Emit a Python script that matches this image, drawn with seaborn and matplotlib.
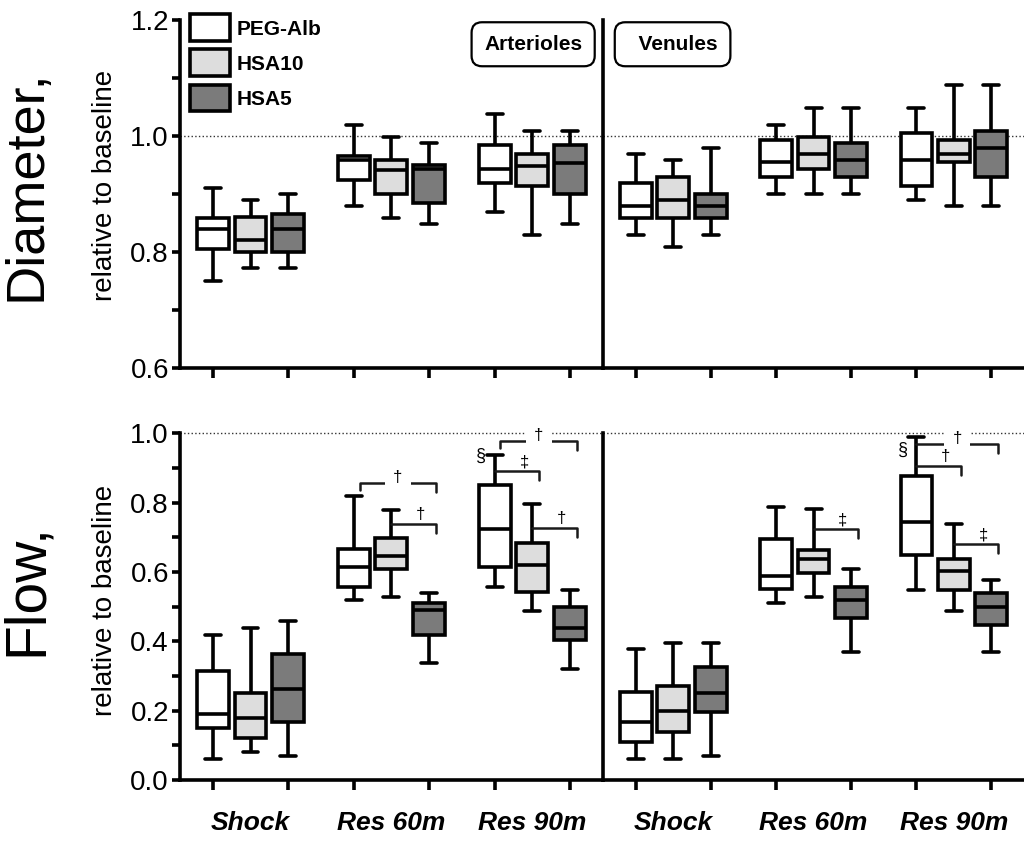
import numpy as np
import pandas as pd
import seaborn as sns
import matplotlib.pyplot as plt
from matplotlib.patches import Patch

sns.set_style('ticks')
plt.rcParams['font.family'] = ['Liberation Sans', 'DejaVu Sans']
for key in ['text.color', 'axes.labelcolor', 'xtick.color', 'ytick.color', 'axes.edgecolor']:
    plt.rcParams[key] = 'black'

treatments = ['PEG-Alb', 'HSA10', 'HSA5']
times = ['Shock', 'Res 60m', 'Res 90m']
colors = ['#ffffff', '#dddddd', '#7b7b7b']

# five-number summaries [min, q1, median, q3, max]; rows: time x treatment
diam_art = [
    [0.750, 0.806, 0.839, 0.858, 0.910], [0.772, 0.800, 0.821, 0.860, 0.890], [0.772, 0.800, 0.839, 0.865, 0.900],
    [0.879, 0.924, 0.959, 0.966, 1.019], [0.859, 0.900, 0.941, 0.959, 0.999], [0.849, 0.885, 0.944, 0.950, 0.988],
    [0.870, 0.920, 0.943, 0.984, 1.039], [0.829, 0.914, 0.949, 0.969, 1.009], [0.849, 0.900, 0.953, 0.984, 1.009],
]
diam_ven = [
    [0.829, 0.859, 0.879, 0.920, 0.969], [0.809, 0.859, 0.890, 0.929, 0.959], [0.829, 0.859, 0.879, 0.900, 0.979],
    [0.900, 0.929, 0.955, 0.993, 1.019], [0.900, 0.944, 0.969, 0.999, 1.049], [0.900, 0.930, 0.959, 0.988, 1.049],
    [0.890, 0.914, 0.959, 1.005, 1.049], [0.879, 0.955, 0.969, 0.993, 1.088], [0.879, 0.930, 0.980, 1.009, 1.088],
]
flow_art = [
    [0.060, 0.149, 0.189, 0.315, 0.418], [0.080, 0.120, 0.178, 0.250, 0.437], [0.069, 0.166, 0.261, 0.363, 0.459],
    [0.519, 0.557, 0.615, 0.665, 0.818], [0.528, 0.607, 0.646, 0.699, 0.778], [0.338, 0.418, 0.490, 0.509, 0.538],
    [0.557, 0.615, 0.723, 0.850, 0.937], [0.488, 0.543, 0.620, 0.682, 0.795], [0.319, 0.403, 0.437, 0.498, 0.548],
]
flow_ven = [
    [0.060, 0.110, 0.168, 0.255, 0.379], [0.060, 0.139, 0.200, 0.272, 0.396], [0.069, 0.197, 0.250, 0.327, 0.396],
    [0.509, 0.552, 0.589, 0.694, 0.788], [0.528, 0.596, 0.636, 0.663, 0.780], [0.368, 0.468, 0.519, 0.557, 0.607],
    [0.548, 0.648, 0.743, 0.876, 0.988], [0.488, 0.548, 0.602, 0.637, 0.738], [0.368, 0.447, 0.498, 0.538, 0.576],
]

# significance brackets on the flow panel: (time, from, to, level, mark)
art_brackets = [
    ('Res 60m', 'PEG-Alb', 'HSA5', 0.856, '†'),
    ('Res 60m', 'HSA10', 'HSA5', 0.738, '†'),
    ('Res 90m', 'PEG-Alb', 'HSA5', 0.977, '†'),
    ('Res 90m', 'PEG-Alb', 'HSA10', 0.890, '‡'),
    ('Res 90m', 'HSA10', 'HSA5', 0.726, '†'),
]
ven_brackets = [
    ('Res 60m', 'HSA10', 'HSA5', 0.723, '‡'),
    ('Res 90m', 'PEG-Alb', 'HSA5', 0.968, '†'),
    ('Res 90m', 'PEG-Alb', 'HSA10', 0.905, '†'),
    ('Res 90m', 'HSA10', 'HSA5', 0.680, '‡'),
]
art_section = ('Res 90m', 0.934)
ven_section = ('Res 90m', 0.951)

LW = 2.6


def long_table(rows):
    recs = []
    for i, five in enumerate(rows):
        for v in five:
            recs.append((times[i // 3], treatments[i % 3], v))
    return pd.DataFrame(recs, columns=['time', 'treatment', 'value'])


def draw_boxes(ax, rows):
    sns.boxplot(data=long_table(rows), x='time', y='value', hue='treatment',
                order=times, hue_order=treatments, palette=colors,
                whis=(0, 100), width=0.8, gap=0.15, saturation=1,
                linecolor='black', linewidth=LW, legend=False, ax=ax)
    # box centres as drawn by seaborn, sorted left to right
    cx = []
    for p in ax.patches:
        v = p.get_path().vertices[:, 0]
        cx.append((v.min() + v.max()) / 2)
    return np.array(sorted(cx)).reshape(3, 3)


def draw_bracket(ax, centers, rows, br):
    time, a, b, level, mark = br
    ti, ia, ib = times.index(time), treatments.index(a), treatments.index(b)
    x0 = centers[ti, ia]
    x1 = centers[ti, ib] + 0.05
    drop = 0.025
    if level > max(rows[ti * 3 + ia]):
        x0 += 0.04
        xs, ys = [x0, x0, x1, x1], [level - 0.02, level, level, level - drop]
    else:
        xs, ys = [x0, x1, x1], [level, level, level - drop]
    ax.plot(xs, ys, color='#1a1a1a', lw=1.8, zorder=4, clip_on=False)
    if ib - ia > 1:
        ax.text((x0 + x1) / 2, level + 0.017, mark, ha='center', va='center',
                fontsize=12, zorder=5,
                bbox=dict(boxstyle='square,pad=0.5', fc='white', ec='none'))
    else:
        ax.text((x0 + x1) / 2 + 0.05, level + 0.006, mark, ha='center',
                va='bottom', fontsize=12, zorder=5)


fig = plt.figure(figsize=(10.24, 8.44), dpi=100)
ax_da = fig.add_axes([0.1758, 0.564, 0.413, 0.412])
ax_dv = fig.add_axes([0.589, 0.564, 0.411, 0.412])
ax_fa = fig.add_axes([0.1758, 0.0758, 0.413, 0.411])
ax_fv = fig.add_axes([0.589, 0.0758, 0.411, 0.411])

panels = [(ax_da, diam_art), (ax_dv, diam_ven), (ax_fa, flow_art), (ax_fv, flow_ven)]
centers = {}
for ax, rows in panels:
    centers[ax] = draw_boxes(ax, rows)
    ax.axhline(1.0, color='#333333', ls=':', lw=1.0, zorder=0, clip_on=False)
    ax.set_xlabel('')
    ax.set_ylabel('')
    sns.despine(ax=ax)
    for s in ['left', 'bottom']:
        ax.spines[s].set_linewidth(LW)
    ax.set_xticks(centers[ax].ravel(), minor=True)
    ax.set_xticks([0, 1, 2])
    ax.tick_params(axis='x', which='minor', length=7, width=LW)
    ax.tick_params(axis='x', which='major', length=0, pad=22)
    ax.set_xlim(-0.5, 2.5)

for ax in [ax_da, ax_dv]:
    ax.set_ylim(0.6, 1.2)
    ax.set_xticklabels([])
for ax in [ax_fa, ax_fv]:
    ax.set_ylim(0.0, 1.0)
    ax.set_xticklabels(times, fontsize=19, fontweight='bold', fontstyle='italic')

ax_da.set_yticks([0.6, 0.8, 1.0, 1.2])
ax_da.set_yticks([0.7, 0.9, 1.1], minor=True)
ax_fa.set_yticks([0.0, 0.2, 0.4, 0.6, 0.8, 1.0])
ax_fa.set_yticks([0.1, 0.3, 0.5, 0.7, 0.9], minor=True)
for ax in [ax_da, ax_fa]:
    ax.set_yticklabels([f'{v:.1f}' for v in ax.get_yticks()], fontsize=20)
    ax.tick_params(axis='y', which='both', length=6, width=LW, pad=2)
for ax in [ax_dv, ax_fv]:
    ax.tick_params(axis='y', which='both', left=False, labelleft=False)

# y labels
ax_da.text(-0.362, 0.526, 'Diameter,', transform=ax_da.transAxes, rotation=90,
           ha='center', va='center', fontsize=39)
ax_da.text(-0.177, 0.524, 'relative to baseline', transform=ax_da.transAxes,
           rotation=90, ha='center', va='center', fontsize=20)
ax_fa.text(-0.362, 0.548, 'Flow,', transform=ax_fa.transAxes, rotation=90,
           ha='center', va='center', fontsize=41)
ax_fa.text(-0.177, 0.519, 'relative to baseline', transform=ax_fa.transAxes,
           rotation=90, ha='center', va='center', fontsize=20)

# vessel tags
tag_box = dict(boxstyle='round,pad=0.6,rounding_size=0.5', fc='white', ec='black', lw=1.6)
ax_da.text(0.835, 0.931, 'Arterioles', transform=ax_da.transAxes, ha='center',
           va='center', fontsize=15, fontweight='bold', bbox=tag_box)
ax_dv.text(0.165, 0.931, '  Venules', transform=ax_dv.transAxes, ha='center',
           va='center', fontsize=15, fontweight='bold', bbox=tag_box)

# legend
handles = [Patch(facecolor=c, edgecolor='black', linewidth=LW, label=t)
           for c, t in zip(colors, treatments)]
ax_da.legend(handles=handles, loc='upper left', bbox_to_anchor=(0.024, 1.017),
             frameon=False, prop={'weight': 'bold', 'size': 15},
             handlelength=1.9, handleheight=1.6, labelspacing=0.4,
             handletextpad=0.35, borderpad=0, borderaxespad=0)

# significance marks on flow
for ax, rows, brs, sec in [(ax_fa, flow_art, art_brackets, art_section),
                           (ax_fv, flow_ven, ven_brackets, ven_section)]:
    for br in brs:
        draw_bracket(ax, centers[ax], rows, br)
    ti = times.index(sec[0])
    ax.text(centers[ax][ti, 0] - 0.06, sec[1], '§', ha='right', va='center', fontsize=13)

fig.savefig('out.png', dpi=100)
